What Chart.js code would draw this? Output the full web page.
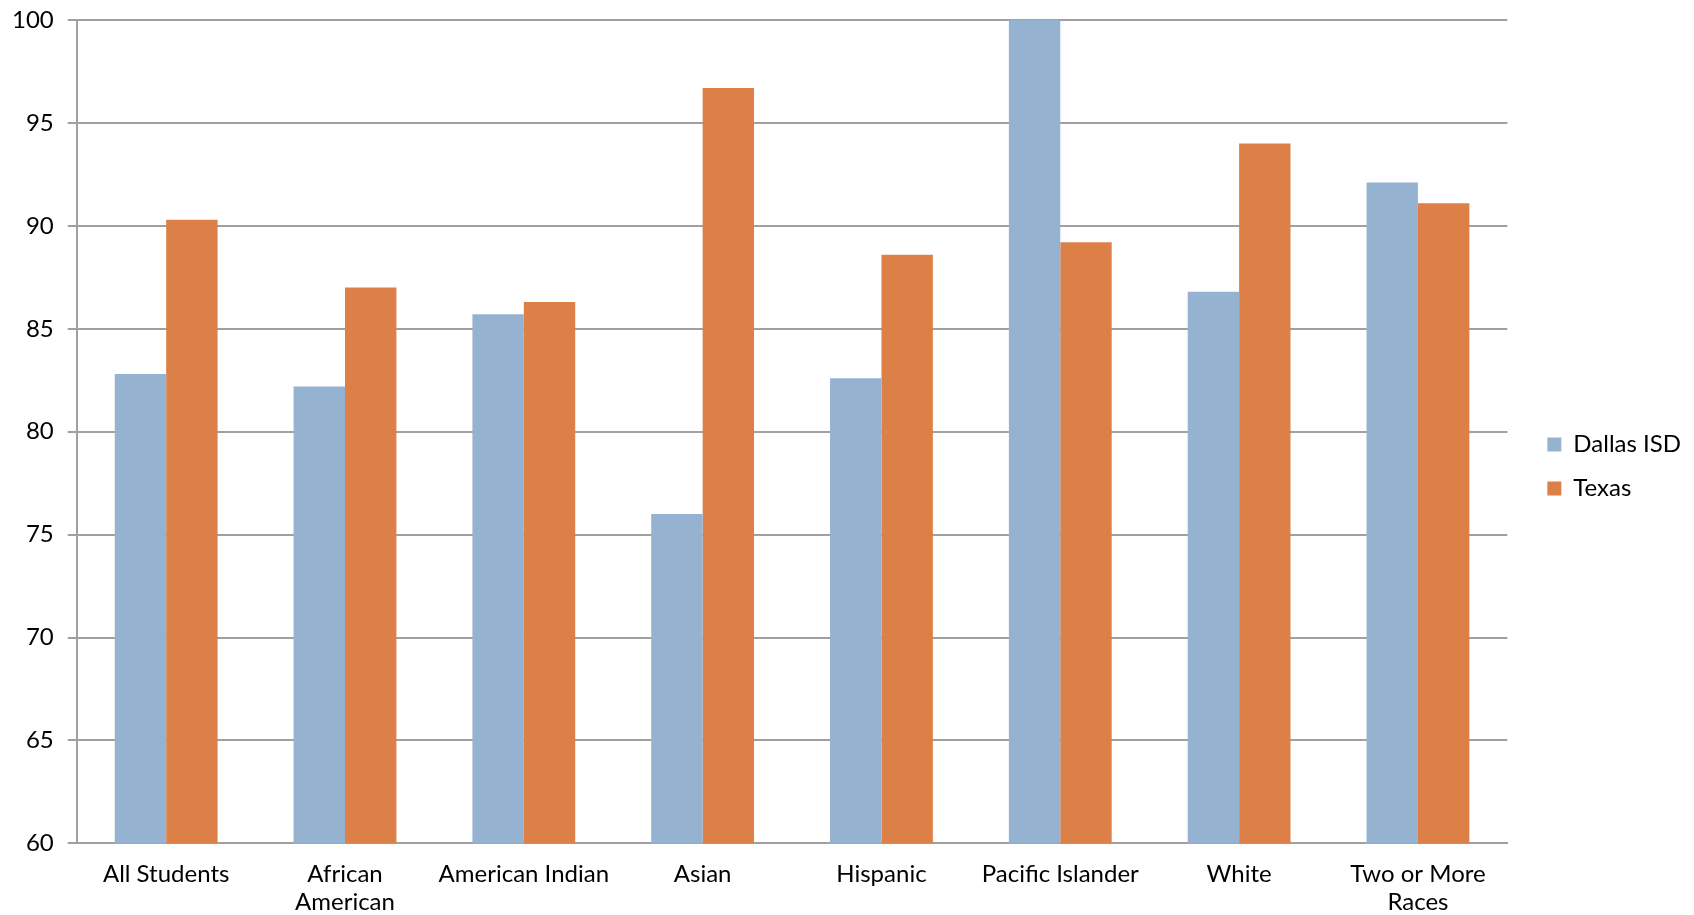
<!DOCTYPE html>
<html>
<head>
<meta charset="utf-8">
<script src="https://cdn.jsdelivr.net/npm/chart.js@4"></script>
<style>
  body { margin: 0; background: #fff; }
  #wrap { width: 1694px; height: 915px; }
</style>
</head>
<body>
<div id="wrap"><canvas id="chart"></canvas></div>
<script>
// categories (multi-line ones are split like the original)
var categories = ['All Students', ['African', 'American'], 'American Indian', 'Asian',
  'Hispanic', 'Pacific Islander', 'White', ['Two or More', 'Races']];
var dallasISD = [82.8, 82.2, 85.7, 76.0, 82.6, 100, 86.8, 92.1];
var texas = [90.3, 87.0, 86.3, 96.7, 88.6, 89.2, 94.0, 91.1];
var yTicks = [60, 65, 70, 75, 80, 85, 90, 95, 100];

Chart.defaults.font.family = 'Lato';
Chart.defaults.color = '#000';

function draw() {
  var ctx = document.getElementById('chart');
  new Chart(ctx, {
    type: 'bar',
    data: {
      labels: categories,
      datasets: [{
        label: 'Dallas ISD',
        data: dallasISD,
        backgroundColor: '#95b3d0',
        categoryPercentage: 0.575,
        barPercentage: 1.0
      }, {
        label: 'Texas',
        data: texas,
        backgroundColor: '#dd8047',
        categoryPercentage: 0.575,
        barPercentage: 1.0
      }]
    },
    options: {
      responsive: true,
      maintainAspectRatio: false,
      animation: false,
      layout: { padding: { left: -2, right: 3, top: 0, bottom: -18 } },
      plugins: {
        legend: {
          position: 'right',
          labels: {
            boxWidth: 14,
            boxHeight: 14,
            padding: 20,
            font: { size: 24 },
            color: '#000'
          }
        },
        title: { display: false },
        tooltip: { enabled: false }
      },
      scales: {
        x: {
          grid: { display: false, drawTicks: false },
          border: { display: true, color: '#a0a0a0', width: 2 },
          ticks: { font: { size: 24, lineHeight: 1.2 }, padding: 16, maxRotation: 0, autoSkip: false }
        },
        y: {
          min: 60,
          max: 100,
          afterBuildTicks: function (s) { s.ticks = yTicks.map(function (v) { return { value: v }; }); },
          afterFit: function (s) { s.paddingTop = 20; },
          grid: { color: '#a0a0a0', lineWidth: 2, tickLength: 9 },
          border: { color: '#a0a0a0', width: 2 },
          ticks: { font: { size: 24 }, padding: 14 }
        },
        // empty spacer so the legend sits a bit apart from the plot
        yr: {
          position: 'right',
          display: true,
          grid: { display: false },
          border: { display: false },
          ticks: { display: false },
          afterFit: function (s) { s.width = 20; }
        }
      }
    }
  });
}

if (document.fonts && document.fonts.load) {
  document.fonts.load('24px Lato').then(draw, draw);
} else {
  draw();
}
</script>
</body>
</html>
